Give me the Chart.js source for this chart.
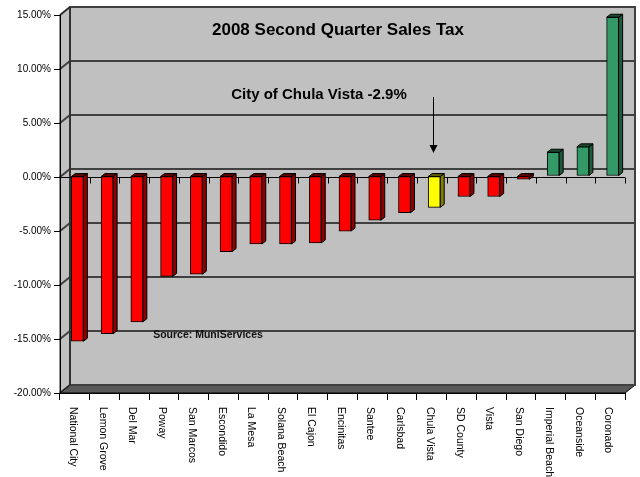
<!DOCTYPE html>
<html>
<head>
<meta charset="utf-8">
<script src="https://cdn.jsdelivr.net/npm/chart.js@4/dist/chart.umd.min.js"></script>
<style>
  html, body { margin: 0; padding: 0; background: #fff; }
  canvas { display: block; }
</style>
</head>
<body>
<canvas id="salesChart" width="640" height="477"></canvas>
<script>
var cities = ['National City', 'Lemon Grove', 'Del Mar', 'Poway', 'San Marcos', 'Escondido',
  'La Mesa', 'Solana Beach', 'El Cajon', 'Encinitas', 'Santee', 'Carlsbad', 'Chula Vista',
  'SD County', 'Vista', 'San Diego', 'Imperial Beach', 'Oceanside', 'Coronado'];
var change = [-15.3, -14.6, -13.5, -9.3, -9.1, -7.0, -6.3, -6.3, -6.2, -5.1, -4.1, -3.4, -2.9,
  -1.9, -1.9, -0.3, 2.2, 2.7, 14.7];
var yTicks = [15, 10, 5, 0, -5, -10, -15, -20];
var highlightCity = 'Chula Vista';
var chartTitle = '2008 Second Quarter Sales Tax';
var noteText = 'City of Chula Vista -2.9%';
var sourceText = 'Source: MuniServices';

var FONT = '"Liberation Sans", Arial, sans-serif';
var DX = 10, DY = 8;        // depth of the walls
var BDX = 4, BDY = 3;       // depth of each bar

// front / side / top colours for each bar
function barColors(i) {
  if (cities[i] === highlightCity) return ['#FFFF00', '#808000', '#5c5c00'];
  if (change[i] < 0) return ['#FF0000', '#8B0000', '#5a0000'];
  return ['#339966', '#1d5a3c', '#1a4a32'];
}

function poly(ctx, pts, fill, stroke, lw) {
  ctx.beginPath();
  ctx.moveTo(pts[0][0], pts[0][1]);
  for (var k = 1; k < pts.length; k++) ctx.lineTo(pts[k][0], pts[k][1]);
  ctx.closePath();
  if (fill) { ctx.fillStyle = fill; ctx.fill(); }
  if (stroke) { ctx.strokeStyle = stroke; ctx.lineWidth = lw || 1; ctx.stroke(); }
}

var excel3d = {
  id: 'excel3d',
  beforeDraw: function(chart) {
    var ctx = chart.ctx, a = chart.chartArea, ys = chart.scales.y;
    ctx.save();
    ctx.fillStyle = '#fff';
    ctx.fillRect(0, 0, chart.width, chart.height);

    // back wall
    ctx.fillStyle = '#C0C0C0';
    ctx.fillRect(a.left + DX, a.top - DY, a.right - a.left, a.bottom - a.top);
    // left wall
    poly(ctx, [[a.left, a.top], [a.left + DX, a.top - DY], [a.left + DX, a.bottom - DY], [a.left, a.bottom]], '#C0C0C0');

    // gridlines on back and side wall
    ctx.strokeStyle = '#404040';
    ctx.lineWidth = 2;
    yTicks.forEach(function(v) {
      var py = ys.getPixelForValue(v);
      ctx.beginPath();
      ctx.moveTo(a.left, py);
      ctx.lineTo(a.left + DX, py - DY);
      ctx.lineTo(a.right + DX, py - DY);
      ctx.stroke();
    });

    // floor
    poly(ctx, [[a.left, a.bottom], [a.left + DX, a.bottom - DY], [a.right + DX, a.bottom - DY], [a.right, a.bottom]], '#595959', '#000', 1);
    // outlines
    ctx.strokeStyle = '#404040';
    ctx.lineWidth = 2;
    ctx.strokeRect(a.left + DX, a.top - DY, a.right - a.left, a.bottom - a.top);
    poly(ctx, [[a.left, a.top], [a.left + DX, a.top - DY], [a.left + DX, a.bottom - DY], [a.left, a.bottom]], null, '#222', 1);
    ctx.restore();
  },
  beforeDatasetsDraw: function(chart) {
    var ctx = chart.ctx, a = chart.chartArea, xs = chart.scales.x, ys = chart.scales.y;
    // category axis through zero
    var y0 = Math.round(ys.getPixelForValue(0)) + 0.5;
    ctx.save();
    ctx.strokeStyle = '#000';
    ctx.lineWidth = 1;
    ctx.beginPath();
    ctx.moveTo(a.left, y0);
    ctx.lineTo(a.right, y0);
    for (var i = 1; i <= cities.length; i++) {
      var tx = Math.round(xs.getPixelForValue(i - 0.5)) + 0.5;
      ctx.moveTo(tx, y0);
      ctx.lineTo(tx, y0 + 6);
    }
    ctx.stroke();
    ctx.restore();

    // bars sit a little inside the depth
    ctx.save();
    ctx.translate(2.5, -1);
    chart.getDatasetMeta(0).data.forEach(function(bar, i) {
      var p = bar.getProps(['x', 'y', 'base', 'width'], true);
      var l = p.x - p.width / 2, r = p.x + p.width / 2;
      var t = Math.min(p.y, p.base), b = Math.max(p.y, p.base);
      var c = barColors(i);
      poly(ctx, [[r, t], [r + BDX, t - BDY], [r + BDX, b - BDY], [r, b]], c[1], '#000', 1);
      poly(ctx, [[l, t], [l + BDX, t - BDY], [r + BDX, t - BDY], [r, t]], c[2], '#000', 1);
    });
  },
  afterDatasetsDraw: function(chart) {
    chart.ctx.restore();
  },
  afterDraw: function(chart) {
    var ctx = chart.ctx, xs = chart.scales.x, a = chart.chartArea;
    ctx.save();
    ctx.fillStyle = '#000';

    // category labels, rotated to read downwards
    ctx.font = '10.5px ' + FONT;
    ctx.textAlign = 'left';
    ctx.textBaseline = 'middle';
    cities.forEach(function(name, i) {
      ctx.save();
      ctx.translate(xs.getPixelForValue(i) - 2, a.bottom + 14);
      ctx.rotate(Math.PI / 2);
      ctx.fillText(name, 0, 0);
      ctx.restore();
    });

    ctx.textAlign = 'center';
    ctx.font = 'bold 17px ' + FONT;
    ctx.fillText(chartTitle, 338, 30);
    ctx.font = 'bold 15px ' + FONT;
    ctx.fillText(noteText, 319, 95);
    ctx.font = 'bold 10.5px ' + FONT;
    ctx.fillStyle = '#111';
    ctx.fillText(sourceText, 208, 335);

    // arrow to the highlighted city
    var ax = Math.round(xs.getPixelForValue(cities.indexOf(highlightCity)) + 1.5) + 0.5;
    ctx.strokeStyle = '#000';
    ctx.lineWidth = 1;
    ctx.beginPath();
    ctx.moveTo(ax, 97);
    ctx.lineTo(ax, 146);
    ctx.stroke();
    poly(ctx, [[ax - 4, 145], [ax + 4, 145], [ax, 153]], '#000');
    ctx.restore();
  }
};

new Chart(document.getElementById('salesChart'), {
  type: 'bar',
  data: {
    labels: cities,
    datasets: [{
      data: change,
      backgroundColor: change.map(function(v, i) { return barColors(i)[0]; }),
      borderColor: '#000',
      borderWidth: 1,
      borderSkipped: false,
      barThickness: 12
    }]
  },
  options: {
    responsive: false,
    animation: false,
    devicePixelRatio: 1,
    layout: { padding: { left: 0, top: 15, right: 15, bottom: 84 } },
    plugins: { legend: { display: false }, tooltip: { enabled: false } },
    scales: {
      x: {
        afterFit: function(s) { s.height = 0; },
        ticks: { display: false },
        grid: { drawOnChartArea: false, tickLength: 7, color: '#000', offset: true },
        border: { color: '#000' }
      },
      y: {
        min: yTicks[yTicks.length - 1],
        max: yTicks[0],
        afterFit: function(s) { s.width = 60; },
        ticks: {
          stepSize: 5,
          padding: 3,
          color: '#000',
          font: { family: FONT, size: 10 },
          callback: function(v) { return v.toFixed(2) + '%'; }
        },
        grid: { drawOnChartArea: false, tickLength: 6, color: '#000' },
        border: { color: '#000' }
      }
    }
  },
  plugins: [excel3d]
});
</script>
</body>
</html>
